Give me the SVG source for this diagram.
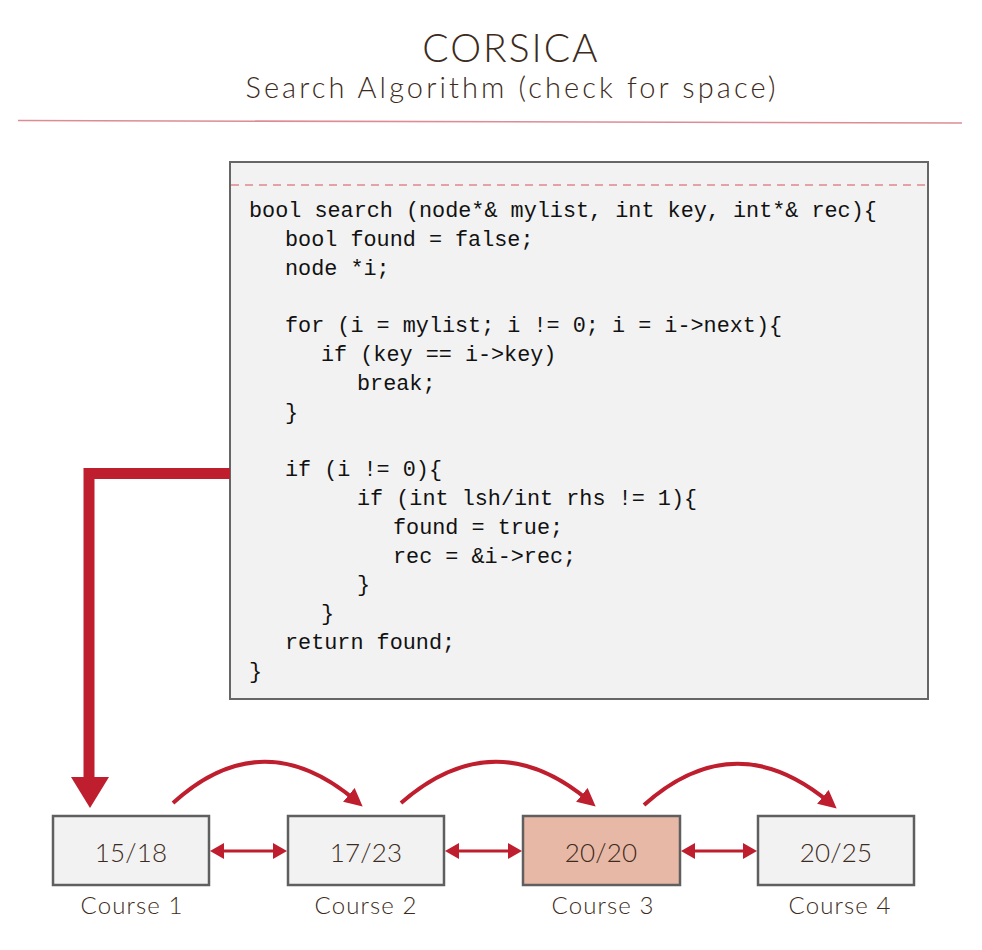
<svg xmlns="http://www.w3.org/2000/svg" width="982" height="950" viewBox="0 0 982 950">
<style>
.t{font-family:Lato,"Open Sans","Noto Sans",sans-serif;font-weight:300;fill:#3d2b20;text-anchor:middle}
.code{font-family:"Liberation Mono","DejaVu Sans Mono",monospace;font-size:21.8px;fill:#111}
.box{fill:#f2f2f2;stroke:#5f5f5f;stroke-width:2.5}
.num{font-size:26px;letter-spacing:0.2px}
.lbl{font-size:24px;letter-spacing:1.1px}
.curve{fill:none;stroke:#be1e2d;stroke-width:4}
.dbl{fill:none;stroke:#be1e2d;stroke-width:3}
</style>
<defs>
<marker id="headC" markerUnits="userSpaceOnUse" markerWidth="18" markerHeight="18" viewBox="0 0 18 18" refX="8" refY="9" orient="auto">
<path d="M0,0 L18,9 L0,18 z" fill="#be1e2d"/>
</marker>
<marker id="headD" markerUnits="userSpaceOnUse" markerWidth="14" markerHeight="16" viewBox="0 0 14 16" refX="1" refY="8" orient="auto-start-reverse">
<path d="M0,0 L14,8 L0,16 z" fill="#be1e2d"/>
</marker>
</defs>
<rect width="982" height="950" fill="#ffffff"/>
<g id="title">
<text class="t" x="511" y="62" font-size="39" letter-spacing="2">CORSICA</text>
<text class="t" x="512" y="98" font-size="29" letter-spacing="3.1">Search Algorithm (check for space)</text>
<line x1="18" y1="120.5" x2="962" y2="123" stroke="#dc8c95" stroke-width="1.5"/>
</g>
<g id="code-box">
<rect x="230" y="162" width="698" height="537" fill="#f2f2f2" stroke="#666666" stroke-width="2"/>
<line x1="231" y1="185" x2="927" y2="185" stroke="#e0868e" stroke-width="1.5" stroke-dasharray="8,6"/>
<text class="code" x="249" y="217">bool search (node*&amp; mylist, int key, int*&amp; rec){</text>
<text class="code" x="285" y="245.8">bool found = false;</text>
<text class="code" x="285" y="274.6">node *i;</text>
<text class="code" x="285" y="332.2">for (i = mylist; i != 0; i = i-&gt;next){</text>
<text class="code" x="321" y="361">if (key == i-&gt;key)</text>
<text class="code" x="357" y="389.8">break;</text>
<text class="code" x="285" y="418.6">}</text>
<text class="code" x="285" y="476.2">if (i != 0){</text>
<text class="code" x="357" y="505">if (int lsh/int rhs != 1){</text>
<text class="code" x="393" y="533.8">found = true;</text>
<text class="code" x="393" y="562.6">rec = &amp;i-&gt;rec;</text>
<text class="code" x="357" y="591.4">}</text>
<text class="code" x="321" y="620.2">}</text>
<text class="code" x="285" y="649">return found;</text>
<text class="code" x="249" y="677.8">}</text>
</g>
<g id="course1">
<rect class="box" x="53" y="816" width="156" height="69"/>
<text class="t num" x="131" y="862">15/18</text>
<text class="t lbl" x="132" y="914">Course 1</text>
</g>
<g id="course2">
<rect class="box" x="288" y="816" width="156" height="69"/>
<text class="t num" x="366" y="862">17/23</text>
<text class="t lbl" x="366" y="914">Course 2</text>
</g>
<g id="course3">
<rect class="box" x="523" y="816" width="157" height="69" style="fill:#e8b8a6"/>
<text class="t num" x="601" y="862">20/20</text>
<text class="t lbl" x="603" y="914">Course 3</text>
</g>
<g id="course4">
<rect class="box" x="758" y="816" width="156" height="69"/>
<text class="t num" x="836" y="862">20/25</text>
<text class="t lbl" x="840" y="914">Course 4</text>
</g>
<g id="connectors">
<path d="M230,473.5 L89,473.5 L89,780" fill="none" stroke="#be1e2d" stroke-width="11"/>
<path d="M71,777 L109,777 L90,808 z" fill="#be1e2d"/>
<path class="curve" d="M173,803 Q262,722 355,800" marker-end="url(#headC)"/>
<path class="curve" d="M401,803 Q494,722 588,800" marker-end="url(#headC)"/>
<path class="curve" d="M644,805 Q735,724 829,802" marker-end="url(#headC)"/>
<line class="dbl" x1="223" y1="851" x2="274" y2="851" marker-start="url(#headD)" marker-end="url(#headD)"/>
<line class="dbl" x1="458" y1="851" x2="509" y2="851" marker-start="url(#headD)" marker-end="url(#headD)"/>
<line class="dbl" x1="694" y1="851" x2="744" y2="851" marker-start="url(#headD)" marker-end="url(#headD)"/>
</g>
</svg>
